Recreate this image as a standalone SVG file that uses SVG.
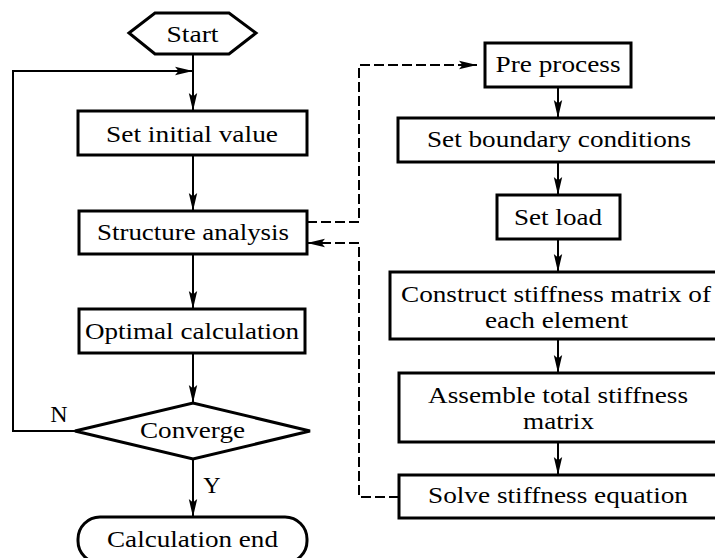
<svg xmlns="http://www.w3.org/2000/svg" width="715" height="558" viewBox="0 0 715 558">
<style>
  .box { fill: #fff; stroke: #000; stroke-width: 3; }
  .t { font-family: 'Liberation Serif', 'Times New Roman', Times, serif; font-size: 24px; fill: #000; text-anchor: middle; }
  .ln { fill: none; stroke: #000; stroke-width: 2; }
  .dash { fill: none; stroke: #000; stroke-width: 2; stroke-dasharray: 10 4; }
</style>
<defs>
  <marker id="arr" markerUnits="userSpaceOnUse" markerWidth="19" markerHeight="10" refX="18" refY="5" orient="auto" viewBox="0 0 19 10">
    <path d="M0,0.8 L18,5 L0,9.2 L3.5,5 Z" fill="#000"/>
  </marker>
</defs>
<rect width="715" height="558" fill="#fff"/>

<g id="connectors">
  <line class="ln" x1="193" y1="54" x2="193" y2="111" marker-end="url(#arr)"/>
  <line class="ln" x1="193" y1="155" x2="193" y2="211" marker-end="url(#arr)"/>
  <line class="ln" x1="193" y1="254" x2="193" y2="309" marker-end="url(#arr)"/>
  <line class="ln" x1="193" y1="353" x2="193" y2="403" marker-end="url(#arr)"/>
  <line class="ln" x1="193" y1="459" x2="193" y2="517" marker-end="url(#arr)"/>
  <path class="ln" d="M75,431 L13,431 L13,71 L193,71" marker-end="url(#arr)"/>
  <line class="ln" x1="558" y1="87" x2="558" y2="118" marker-end="url(#arr)"/>
  <line class="ln" x1="558" y1="162" x2="558" y2="195" marker-end="url(#arr)"/>
  <line class="ln" x1="558" y1="239" x2="558" y2="272" marker-end="url(#arr)"/>
  <line class="ln" x1="558" y1="339" x2="558" y2="373" marker-end="url(#arr)"/>
  <line class="ln" x1="558" y1="442" x2="558" y2="475" marker-end="url(#arr)"/>
  <path class="dash" d="M307,222 L359,222 L359,65 L477,65" marker-end="url(#arr)"/>
  <path class="dash" d="M399,497 L359,497 L359,243 L307,243" marker-end="url(#arr)"/>
  <text class="t" x="59" y="422">N</text>
  <text class="t" x="212" y="493">Y</text>
</g>

<g id="start">
  <polygon class="box" points="129,33 155,13 229,13 256,33 229,54 155,54"/>
  <text class="t" x="192.5" y="42" textLength="52" lengthAdjust="spacingAndGlyphs">Start</text>
</g>
<g id="set-initial-value">
  <rect class="box" x="78" y="111" width="229" height="44"/>
  <text class="t" x="192" y="142" textLength="172" lengthAdjust="spacingAndGlyphs">Set initial value</text>
</g>
<g id="structure-analysis">
  <rect class="box" x="79" y="211" width="228" height="43"/>
  <text class="t" x="193" y="240" textLength="192" lengthAdjust="spacingAndGlyphs">Structure analysis</text>
</g>
<g id="optimal-calculation">
  <rect class="box" x="79" y="309" width="226" height="44"/>
  <text class="t" x="192" y="339" textLength="214" lengthAdjust="spacingAndGlyphs">Optimal calculation</text>
</g>
<g id="converge">
  <polygon class="box" points="75,431 193,403 310,431 193,459"/>
  <text class="t" x="192.5" y="438" textLength="105" lengthAdjust="spacingAndGlyphs">Converge</text>
</g>
<g id="calculation-end">
  <rect class="box" x="78" y="517" width="229" height="46" rx="22" ry="22"/>
  <text class="t" x="192.5" y="547" textLength="171" lengthAdjust="spacingAndGlyphs">Calculation end</text>
</g>

<g id="pre-process">
  <rect class="box" x="485" y="43" width="146" height="44"/>
  <text class="t" x="558" y="72" textLength="125" lengthAdjust="spacingAndGlyphs">Pre process</text>
</g>
<g id="set-boundary-conditions">
  <rect class="box" x="398" y="118" width="330" height="44"/>
  <text class="t" x="559" y="147" textLength="264" lengthAdjust="spacingAndGlyphs">Set boundary conditions</text>
</g>
<g id="set-load">
  <rect class="box" x="497" y="195" width="123" height="44"/>
  <text class="t" x="558" y="225" textLength="88" lengthAdjust="spacingAndGlyphs">Set load</text>
</g>
<g id="construct-stiffness">
  <rect class="box" x="390" y="272" width="340" height="67"/>
  <text class="t" x="556" y="302" textLength="310" lengthAdjust="spacingAndGlyphs">Construct stiffness matrix of</text>
  <text class="t" x="556.5" y="328" textLength="143" lengthAdjust="spacingAndGlyphs">each element</text>
</g>
<g id="assemble-total-stiffness">
  <rect class="box" x="399" y="373" width="330" height="69"/>
  <text class="t" x="558" y="403" textLength="260" lengthAdjust="spacingAndGlyphs">Assemble total stiffness</text>
  <text class="t" x="558.5" y="429" textLength="71" lengthAdjust="spacingAndGlyphs">matrix</text>
</g>
<g id="solve-stiffness-equation">
  <rect class="box" x="399" y="475" width="330" height="43"/>
  <text class="t" x="558" y="503" textLength="260" lengthAdjust="spacingAndGlyphs">Solve stiffness equation</text>
</g>
</svg>
